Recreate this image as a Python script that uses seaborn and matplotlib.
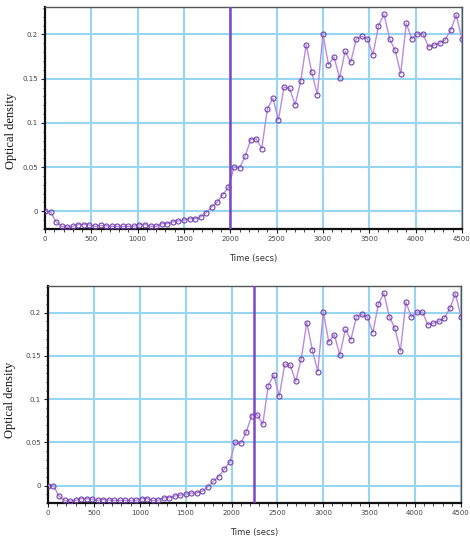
import numpy as np
import pandas as pd
import matplotlib
matplotlib.use("Agg")
import matplotlib.pyplot as plt
import seaborn as sns
from matplotlib.ticker import MultipleLocator

# time points (secs) and optical density readings
time_secs = list(range(0, 4501, 60))
optical_density = [
    0.0, -0.0005, -0.012, -0.017, -0.018, -0.017, -0.015, -0.015, -0.0155, -0.017,
    -0.016, -0.0165, -0.017, -0.017, -0.017, -0.017, -0.017, -0.015, -0.015, -0.017,
    -0.017, -0.014, -0.014, -0.012, -0.011, -0.010, -0.0085, -0.0085, -0.0065, -0.0015,
    0.005, 0.0105, 0.019, 0.027, 0.050, 0.049, 0.062, 0.081, 0.082, 0.071,
    0.1155, 0.128, 0.1034, 0.1405, 0.139, 0.1205, 0.147, 0.1886, 0.157, 0.132,
    0.2008, 0.166, 0.1746, 0.151, 0.181, 0.1686, 0.195, 0.198, 0.195, 0.177,
    0.210, 0.2227, 0.195, 0.182, 0.1557, 0.2125, 0.195, 0.2008, 0.2008, 0.186,
    0.188, 0.190, 0.194, 0.205, 0.222, 0.195,
]
cursor_times = [2000, 2250]  # vertical marker in each panel

df = pd.DataFrame({"time": time_secs, "od": optical_density})

sns.set_style("white")
plt.rcParams["font.family"] = ["DejaVu Sans"]

fig = plt.figure(figsize=(4.7, 5.36), dpi=100)
axes = [
    fig.add_axes([0.0957, 0.5728, 0.887, 0.414]),
    fig.add_axes([0.1021, 0.0616, 0.8787, 0.405]),
]
# where the y label sits, in axes fractions
ylabel_pos = [(-0.067, 0.44), (-0.077, 0.475)]

grid_col = "#96d6f0"
line_col = "#b98be0"
mark_col = "#7040b0"

for ax, cur, lpos in zip(axes, cursor_times, ylabel_pos):
    sns.lineplot(data=df, x="time", y="od", ax=ax, color=line_col, lw=1.0,
                 marker="o", markersize=3.6, markerfacecolor="none",
                 markeredgecolor=mark_col, markeredgewidth=0.8, zorder=3)
    ax.axvline(cur, color="#7d48c4", lw=1.8, zorder=4)
    ax.set_xlim(0, 4500)
    ax.set_ylim(-0.02, 0.231)
    ax.xaxis.set_major_locator(MultipleLocator(500))
    ax.xaxis.set_minor_locator(MultipleLocator(100))
    ax.yaxis.set_minor_locator(MultipleLocator(0.01))
    ax.set_yticks([0, 0.05, 0.1, 0.15, 0.2])
    ax.set_yticklabels(["0", "0.05", "0.1", "0.15", "0.2"])
    ax.grid(True, which="major", color=grid_col, lw=1.5, zorder=0)
    ax.set_axisbelow(True)
    ax.tick_params(which="major", direction="out", length=3, width=0.8,
                   labelsize=5, labelcolor="#444444", color="#222222", pad=2,
                   left=True, bottom=True)
    ax.tick_params(which="minor", direction="out", length=1.8, width=0.6,
                   color="#222222", left=True, bottom=True)
    for side in ["left", "bottom"]:
        ax.spines[side].set_color("#111111")
        ax.spines[side].set_linewidth(1.6)
    for side in ["top", "right"]:
        ax.spines[side].set_color("#555555")
        ax.spines[side].set_linewidth(1.0)
    ax.set_xlabel("Time (secs)", fontsize=6, color="#333333", labelpad=9)
    ax.set_ylabel("Optical density", fontsize=9, family="Liberation Serif",
                  color="#111111")
    ax.yaxis.set_label_coords(*lpos)

fig.savefig("out.png", dpi=100)
